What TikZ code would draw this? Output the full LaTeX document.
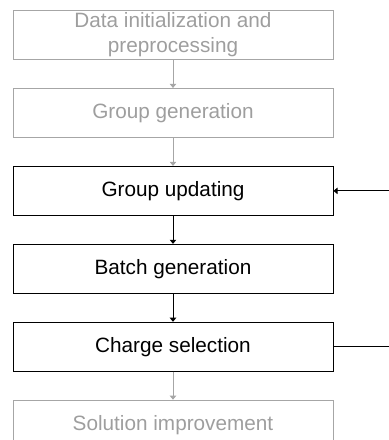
\documentclass[tikz,border=0pt]{standalone}
\usepackage{fontspec}
\setmainfont{Liberation Sans}
\usetikzlibrary{positioning, calc, arrows.meta}

\begin{document}
\begin{tikzpicture}[x=0.03cm, y=-0.03cm,
	box/.style={draw, line width=0.8pt, minimum width=9.6cm, minimum height=1.47cm, inner sep=0pt, align=center, font=\fontsize{17.7}{21.5}\selectfont},
	faded/.style={draw=black!35, text=black!38},
	arr/.style={-{Triangle[length=3.5pt, width=5.5pt]}, line width=0.8pt},
	node distance=0.84cm]
	
	\useasboundingbox (0,0) rectangle (389,440);
	
	%//steps, top to bottom
	\node [box, faded] (init) at (173, 35) {Data initialization and\\preprocessing};
	\node [box, faded, below=of init] (gen) {Group generation};
	\node [box, below=of gen] (upd) {Group updating};
	\node [box, below=of upd] (batch) {Batch generation};
	\node [box, below=of batch] (sel) {Charge selection};
	\node [box, faded, below=of sel] (impr) {Solution improvement};
	
	%//links between steps
	\draw [arr, black!35] (init) -- (gen);
	\draw [arr, black!35] (gen) -- (upd);
	\draw [arr] (upd) -- (batch);
	\draw [arr] (batch) -- (sel);
	\draw [arr, black!35] (sel) -- (impr);
	
	%//loop going off to the right
	\coordinate (loopin) at ($(upd.east)+(56,0)$);
	\coordinate (loopout) at ($(sel.east)+(56,0)$);
	\draw [arr] (loopin) -- (upd.east);
	\draw [line width=0.8pt] (sel.east) -- (loopout);
\end{tikzpicture}
\end{document}
